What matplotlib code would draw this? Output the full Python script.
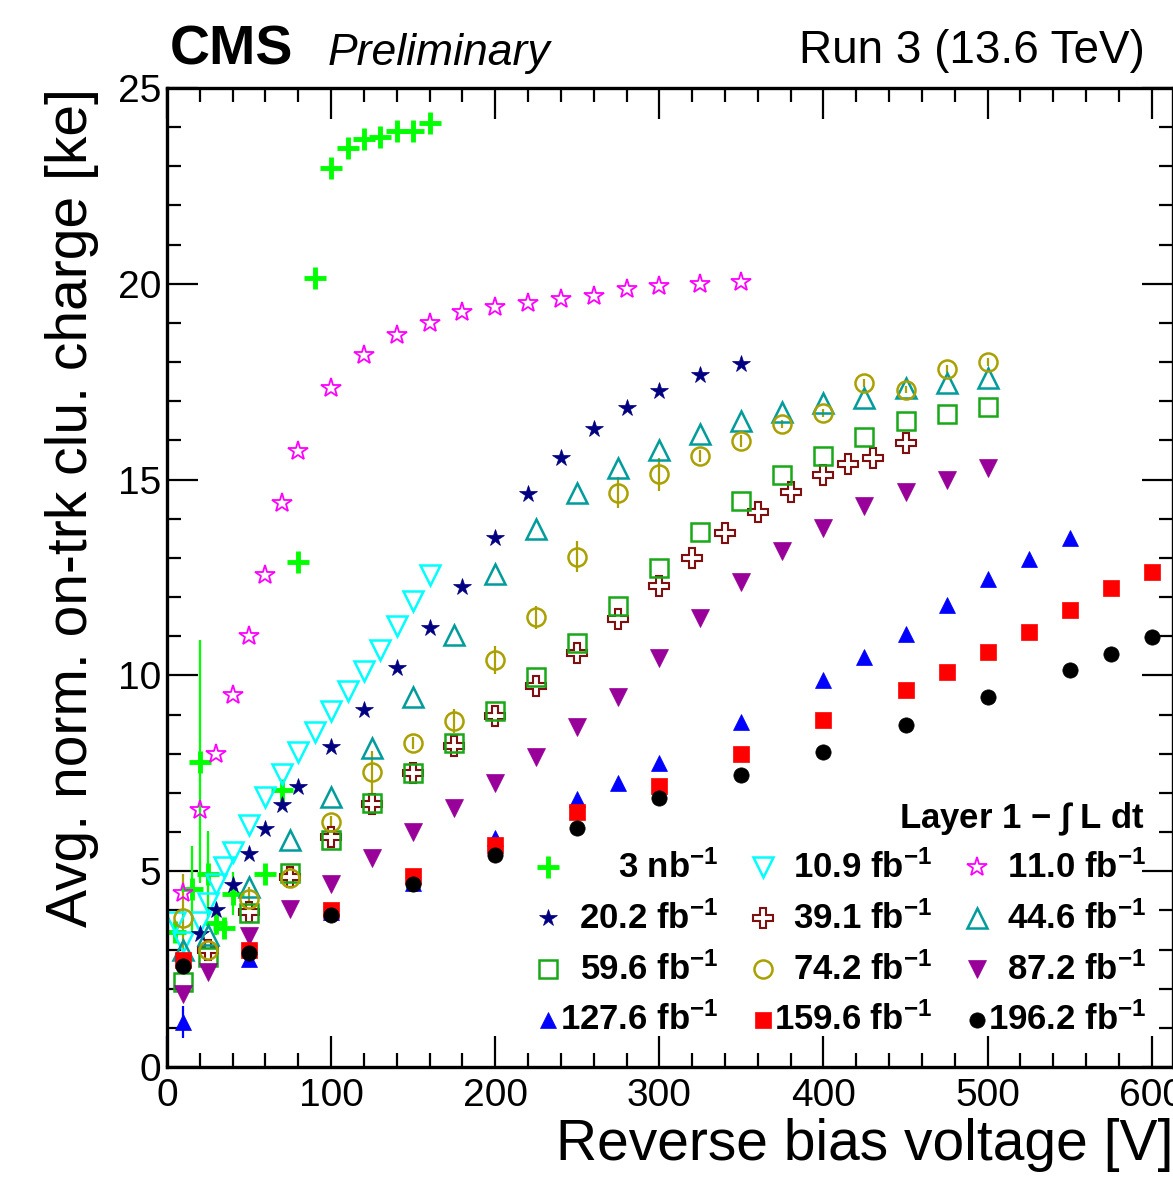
import matplotlib.pyplot as plt
from matplotlib.ticker import MultipleLocator

plt.rcParams["font.family"] = ["Liberation Sans", "DejaVu Sans"]
plt.rcParams["mathtext.fontset"] = "custom"
plt.rcParams["mathtext.rm"] = "Liberation Sans"
plt.rcParams["mathtext.bf"] = "Liberation Sans:bold"
plt.rcParams["mathtext.default"] = "regular"

# bias voltage [V] and avg. charge [ke] per integrated luminosity
v_3nb = [5, 15, 20, 25, 30, 35, 40, 60, 70, 80, 90, 100, 110, 120, 130, 140, 150, 160]
q_3nb = [3.46, 4.54, 7.8, 4.93, 3.67, 3.54, 4.42, 4.93, 7.07, 12.9, 20.15, 22.95,
         23.47, 23.7, 23.75, 23.9, 23.9, 24.1]
e_3nb = [0.3, 1.1, 3.1, 1.1, 0.3, 0.2, 0.55, 0.2, 0.2, 0.1, 0.1, 0.1,
         0.1, 0.1, 0.1, 0.1, 0.1, 0.1]

v_109 = [5, 10, 20, 25, 30, 35, 40, 50, 60, 70, 80, 90, 100, 110, 120, 130, 140, 150, 160]
q_109 = [3.71, 3.2, 3.71, 4.2, 4.67, 5.1, 5.48, 6.18, 6.9, 7.48, 8.05, 8.55, 9.1,
         9.6, 10.1, 10.65, 11.26, 11.9, 12.56]

v_110 = [10, 20, 30, 40, 50, 60, 70, 80, 100, 120, 140, 160, 180, 200, 220, 240,
         260, 280, 300, 325, 350]
q_110 = [4.44, 6.56, 8.0, 9.5, 11.0, 12.56, 14.4, 15.73, 17.34, 18.18, 18.7, 19.0,
         19.28, 19.4, 19.51, 19.61, 19.69, 19.87, 19.94, 20.0, 20.05]

v_202 = [20, 30, 40, 50, 60, 70, 80, 100, 120, 140, 160, 180, 200, 220, 240, 260,
         280, 300, 325, 350]
q_202 = [3.4, 4.0, 4.65, 5.45, 6.08, 6.69, 7.15, 8.17, 9.12, 10.19, 11.2, 12.27,
         13.5, 14.63, 15.54, 16.28, 16.82, 17.26, 17.67, 17.94]

v_391 = [25, 50, 75, 100, 125, 150, 175, 200, 225, 250, 275, 300, 320, 340, 360,
         380, 400, 415, 430, 450]
q_391 = [2.98, 3.95, 4.85, 5.87, 6.72, 7.52, 8.2, 8.96, 9.73, 10.56, 11.43, 12.28,
         12.99, 13.64, 14.18, 14.69, 15.12, 15.39, 15.56, 15.93]

v_long = [10, 25, 50, 75, 100, 125, 150, 175, 200, 225, 250, 275, 300, 325, 350,
          375, 400, 425, 450, 475, 500]
q_446 = [3.0, 3.37, 4.6, 5.8, 6.9, 8.15, 9.45, 11.03, 12.6, 13.74, 14.65, 15.3,
         15.76, 16.16, 16.5, 16.73, 16.96, 17.08, 17.33, 17.46, 17.6]
q_596 = [2.17, 2.81, 3.93, 4.95, 5.8, 6.74, 7.51, 8.27, 9.09, 9.97, 10.82, 11.77,
         12.75, 13.67, 14.45, 15.12, 15.6, 16.08, 16.5, 16.68, 16.86]
q_742 = [3.8, 3.0, 4.3, 4.83, 6.26, 7.53, 8.28, 8.84, 10.39, 11.48, 13.03, 14.67,
         15.14, 15.61, 15.99, 16.42, 16.71, 17.46, 17.3, 17.82, 18.01]
e_742 = [1.13, 0.15, 0.3, 0.15, 0.15, 0.55, 0.15, 0.3, 0.35, 0.3, 0.4, 0.4,
         0.42, 0.15, 0.15, 0.1, 0.1, 0.1, 0.1, 0.1, 0.1]
q_872 = [1.87, 2.43, 3.35, 4.03, 4.68, 5.34, 6.0, 6.61, 7.25, 7.92, 8.68, 9.45,
         10.44, 11.46, 12.38, 13.18, 13.76, 14.33, 14.68, 14.99, 15.29]

v_1276 = [10, 50, 100, 150, 200, 250, 275, 300, 350, 400, 425, 450, 475, 500, 525, 550]
q_1276 = [1.15, 2.75, 3.95, 4.7, 5.85, 6.85, 7.25, 7.76, 8.8, 9.88, 10.48, 11.07,
          11.8, 12.45, 12.96, 13.5]
e_1276 = [0.4] + [0.1] * 15

v_1596 = [10, 50, 100, 150, 200, 250, 300, 350, 400, 450, 475, 500, 525, 550, 575, 600]
q_1596 = [2.73, 2.99, 4.0, 4.88, 5.67, 6.51, 7.18, 7.99, 8.86, 9.63, 10.09, 10.6,
          11.11, 11.67, 12.23, 12.64]

v_1962 = [10, 50, 100, 150, 200, 250, 300, 350, 400, 450, 500, 550, 575, 600]
q_1962 = [2.58, 2.91, 3.88, 4.67, 5.41, 6.1, 6.87, 7.46, 8.04, 8.73, 9.45, 10.14,
          10.55, 10.98]

labels = ["3 nb$^{-1}$", "10.9 fb$^{-1}$", "11.0 fb$^{-1}$",
          "20.2 fb$^{-1}$", "39.1 fb$^{-1}$", "44.6 fb$^{-1}$",
          "59.6 fb$^{-1}$", "74.2 fb$^{-1}$", "87.2 fb$^{-1}$",
          "127.6 fb$^{-1}$", "159.6 fb$^{-1}$", "196.2 fb$^{-1}$"]

data = [
    (v_3nb, q_3nb, e_3nb),
    (v_109, q_109, None),
    (v_110, q_110, None),
    (v_202, q_202, None),
    (v_391, q_391, None),
    (v_long, q_446, None),
    (v_long, q_596, None),
    (v_long, q_742, e_742),
    (v_long, q_872, None),
    (v_1276, q_1276, e_1276),
    (v_1596, q_1596, None),
    (v_1962, q_1962, None),
]

# marker, size, color, filled, edge width
styles = [
    ("+", 16, "#00ff00", True, 3.5),
    ("v", 15, "#00ffff", False, 1.8),
    ("*", 15, "#ff00ff", False, 1.3),
    ("*", 13, "#000080", True, 0.5),
    ("P", 14, "#801010", False, 1.5),
    ("^", 15, "#009c9c", False, 1.8),
    ("s", 13, "#18a818", False, 1.8),
    ("o", 13, "#aaa000", False, 1.8),
    ("v", 13, "#990099", True, 0.5),
    ("^", 11, "#0000ff", True, 0.5),
    ("s", 12, "#ff0000", True, 0.5),
    ("o", 11, "#000000", True, 0.5),
]


def marker_kw(style):
    m, ms, c, filled, mew = style
    if m == "P" and not filled:
        face = "white"
    else:
        face = c if filled else "none"
    return dict(marker=m, ms=ms, mfc=face, mec=c, mew=mew, linestyle="none")


fig = plt.figure(figsize=(11.73, 11.81), dpi=100)
ax = fig.add_axes([0.1424, 0.0965, 0.8576, 0.829])

for (v, q, e), st in zip(data, styles):
    ax.errorbar(v, q, yerr=e, ecolor=st[2], elinewidth=1.6, capsize=0,
                **marker_kw(st))

ax.set_xlim(0, 613)
ax.set_ylim(0, 25)
ax.xaxis.set_major_locator(MultipleLocator(100))
ax.xaxis.set_minor_locator(MultipleLocator(20))
ax.yaxis.set_major_locator(MultipleLocator(5))
ax.yaxis.set_minor_locator(MultipleLocator(1))
ax.tick_params(which="both", direction="in", top=True, right=True,
               labelsize=28, width=1.6)
ax.tick_params(which="major", length=22)
ax.tick_params(which="minor", length=10)
ax.tick_params(axis="x", pad=8)
ax.tick_params(axis="y", pad=4)
for sp in ax.spines.values():
    sp.set_linewidth(2.4)

ax.set_xlabel("Reverse bias voltage [V]", fontsize=41, loc="right")
ax.xaxis.set_label_coords(1.0, -0.052)
ax.set_ylabel("Avg. norm. on-trk clu. charge [ke]", fontsize=41, loc="top")
ax.yaxis.set_label_coords(-0.068, 1.0)

# legend laid out like the ROOT TLegend (3 columns, right-aligned labels)
key_x0, text_x0, col_dx = 0.379, 0.548, 0.213
row_y0, row_dy = 0.204, 0.052
ax.text(0.972, row_y0 + 0.049, "Layer 1 $-$ $\\int$ L dt", transform=ax.transAxes,
        ha="right", va="center", fontsize=25, fontweight="bold")
for i, (lab, st) in enumerate(zip(labels, styles)):
    col, row = i % 3, i // 3
    ky = row_y0 - row * row_dy
    ax.plot([key_x0 + col * col_dx], [ky], transform=ax.transAxes,
            clip_on=False, **marker_kw(st))
    ax.text(text_x0 + col * col_dx, ky, lab, transform=ax.transAxes,
            ha="right", va="center", fontsize=25, fontweight="bold")

fig.text(0.145, 0.945, "CMS", fontsize=40, fontweight="bold", va="baseline")
fig.text(0.279, 0.945, "Preliminary", fontsize=32, fontstyle="italic", va="baseline")
fig.text(0.976, 0.947, "Run 3 (13.6 TeV)", fontsize=33, ha="right", va="baseline")

fig.savefig("out.png", dpi=100)
